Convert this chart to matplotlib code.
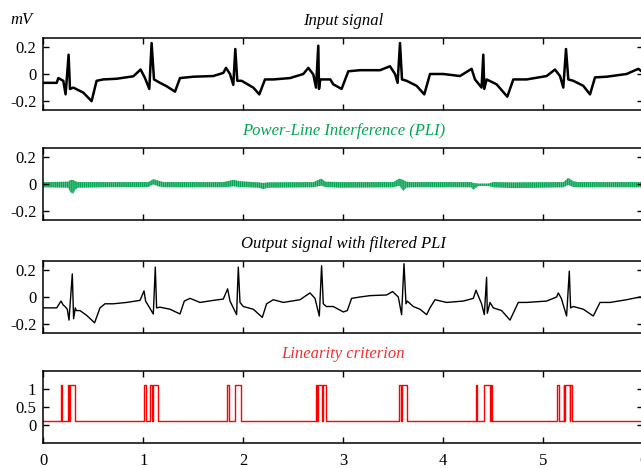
import matplotlib
matplotlib.use('Agg')
import matplotlib.pyplot as plt

plt.rcParams['font.family'] = ['Liberation Serif', 'DejaVu Serif']
plt.rcParams['font.size'] = 12
plt.rcParams['axes.unicode_minus'] = False
plt.rcParams['hatch.linewidth'] = 1.0

# input signal (mV) - breakpoints
inp_t = [0, 0.134, 0.15, 0.2, 0.223, 0.253, 0.267, 0.3, 0.4, 0.483, 0.533, 0.6, 0.733, 0.9,
         0.973, 1.017, 1.06, 1.083, 1.107, 1.167, 1.233, 1.317, 1.367, 1.5, 1.7, 1.8, 1.827,
         1.867, 1.9, 1.92, 1.94, 1.983, 2.1, 2.16, 2.217, 2.3, 2.467, 2.6, 2.65, 2.7, 2.727,
         2.75, 2.757, 2.77, 2.87, 2.9, 2.983, 3.05, 3.167, 3.367, 3.467, 3.517, 3.543, 3.567,
         3.587, 3.633, 3.733, 3.81, 3.867, 4.0, 4.167, 4.283, 4.317, 4.383, 4.4, 4.41, 4.433,
         4.533, 4.64, 4.7, 4.833, 5.033, 5.117, 5.167, 5.2, 5.227, 5.25, 5.3, 5.4, 5.467,
         5.517, 5.633, 5.833, 5.95, 6.0]
inp_v = [-0.065, -0.065, -0.03, -0.05, -0.15, 0.142, -0.11, -0.1, -0.137, -0.2, -0.05, -0.04,
         -0.035, -0.017, 0.033, -0.03, -0.11, 0.228, -0.04, -0.065, -0.09, -0.13, -0.03, -0.02,
         -0.015, 0.008, 0.045, 0.0, -0.08, 0.184, -0.05, -0.05, -0.1, -0.15, -0.04, -0.04,
         -0.03, 0.0, 0.045, -0.003, -0.1, 0.208, -0.11, -0.04, -0.04, -0.076, -0.11, 0.02,
         0.028, 0.028, 0.057, 0.0, -0.065, 0.228, -0.04, -0.05, -0.087, -0.15, 0.0, 0.0,
         -0.015, 0.038, -0.04, -0.1, 0.142, -0.11, -0.04, -0.076, -0.167, -0.04, -0.04,
         -0.015, 0.033, -0.015, -0.1, 0.184, -0.04, -0.05, -0.087, -0.15, -0.025, -0.02,
         0.0, 0.038, 0.01]

# power-line interference, drawn as its envelope (upper / lower edge)
pli_t = [0, 0.25, 0.27, 0.3, 0.32, 0.35, 0.6, 1.05, 1.1, 1.15, 1.2, 1.8, 1.9, 1.97, 2.15,
         2.2, 2.25, 2.7, 2.78, 2.82, 2.97, 3.5, 3.56, 3.6, 3.63, 3.68, 4.28, 4.3, 4.35, 4.45,
         4.5, 4.7, 5.2, 5.25, 5.3, 5.35, 6.0]
pli_hi = [0.014, 0.017, 0.03, 0.03, 0.02, 0.014, 0.014, 0.014, 0.035, 0.025, 0.014, 0.014,
          0.03, 0.02, 0.012, 0.008, 0.012, 0.014, 0.04, 0.017, 0.014, 0.014, 0.04, 0.03, 0.017,
          0.014, 0.014, 0.008, 0.003, 0.003, 0.014, 0.012, 0.014, 0.045, 0.02, 0.014, 0.014]
pli_lo = [-0.024, -0.027, -0.06, -0.07, -0.04, -0.027, -0.024, -0.022, -0.002, -0.017, -0.024,
          -0.024, -0.017, -0.022, -0.027, -0.037, -0.027, -0.024, -0.012, -0.022, -0.027, -0.024,
          -0.012, -0.05, -0.027, -0.024, -0.024, -0.042, -0.014, -0.014, -0.024, -0.03, -0.024,
          -0.007, -0.022, -0.024, -0.024]

# output signal with filtered PLI
out_t = [0, 0.134, 0.16, 0.177, 0.2, 0.217, 0.24, 0.257, 0.29, 0.303, 0.32, 0.33, 0.367,
         0.433, 0.513, 0.567, 0.617, 0.7, 0.833, 0.967, 1.007, 1.023, 1.1, 1.12, 1.133, 1.167,
         1.267, 1.367, 1.41, 1.467, 1.567, 1.7, 1.8, 1.843, 1.867, 1.933, 1.95, 1.967, 2.0,
         2.1, 2.19, 2.233, 2.3, 2.4, 2.567, 2.667, 2.717, 2.76, 2.783, 2.8, 2.83, 2.9, 3.0,
         3.04, 3.083, 3.167, 3.267, 3.433, 3.493, 3.55, 3.583, 3.607, 3.627, 3.64, 3.7, 3.767,
         3.833, 3.867, 3.917, 4.033, 4.2, 4.3, 4.327, 4.36, 4.383, 4.41, 4.433, 4.44, 4.467,
         4.5, 4.583, 4.667, 4.75, 4.833, 5.033, 5.133, 5.15, 5.18, 5.233, 5.26, 5.273, 5.3,
         5.4, 5.5, 5.567, 5.667, 5.833, 5.967, 6.0]
out_v = [-0.08, -0.08, -0.05, -0.03, -0.06, -0.07, -0.09, -0.17, 0.17, -0.16, -0.08, -0.1,
         -0.1, -0.135, -0.19, -0.08, -0.05, -0.05, -0.04, -0.025, 0.045, -0.03, -0.125, 0.22,
         -0.08, -0.075, -0.09, -0.125, -0.03, -0.01, -0.04, -0.025, -0.015, 0.06, -0.03,
         -0.13, 0.22, -0.04, -0.07, -0.09, -0.15, -0.05, -0.02, -0.04, -0.02, 0.03, -0.01,
         -0.14, 0.23, -0.05, -0.07, -0.07, -0.11, -0.1, -0.01, 0.0, 0.01, 0.015, 0.04, 0.0,
         -0.13, 0.245, -0.05, -0.03, -0.07, -0.09, -0.13, -0.08, -0.02, -0.04, -0.03, -0.01,
         0.05, -0.01, -0.05, -0.13, 0.145, -0.12, -0.04, -0.08, -0.1, -0.17, -0.04, -0.04,
         -0.03, 0.0, 0.03, -0.01, -0.14, 0.19, -0.08, -0.07, -0.09, -0.14, -0.04, -0.04,
         -0.02, 0.0, 0.0]

# linearity criterion: switching times and level held after each one
lin_t = [0, 0.174, 0.187, 0.245, 0.255, 0.265, 0.32, 1.01, 1.024, 1.067, 1.084, 1.094, 1.144,
         1.84, 1.854, 1.917, 1.977, 2.725, 2.735, 2.75, 2.784, 2.80, 2.83, 3.557, 3.577, 3.59,
         3.633, 4.324, 4.337, 4.407, 4.47, 4.475, 4.484, 5.14, 5.155, 5.205, 5.21, 5.215,
         5.265, 5.27, 5.29, 6.0]
lin_v = [0.1, 1.1, 0.1, 1.1, 0.1, 1.1, 0.1, 1.1, 0.1, 1.1, 0.1, 1.1, 0.1,
         1.1, 0.1, 1.1, 0.1, 1.1, 0.1, 1.1, 0.1, 1.1, 0.1, 1.1, 0.1, 1.1,
         0.1, 1.1, 0.1, 1.1, 0.1, 1.1, 0.1, 1.1, 0.1, 1.1, 0.1, 1.1,
         0.1, 1.1, 0.1, 0.1]

green = '#00a651'
red = '#ee3030'

fig = plt.figure(figsize=(6.41, 4.68), dpi=100)
left = 43.3 / 641
width = 600 / 641
h = 72 / 468
bottoms = [1 - 110 / 468, 1 - 220 / 468, 1 - 333 / 468, 1 - 443 / 468]


def panel(b, title, tcolor, yt, ylim, last=False):
    ax = fig.add_axes([left, b, width, h])
    ax.set_xlim(0, 6)
    ax.set_ylim(*ylim)
    ax.set_xticks(range(7))
    ax.set_yticks(yt)
    ax.set_yticklabels([('%g' % v) for v in yt])
    ax.tick_params(direction='in', top=True, right=True, length=4, width=1,
                   labelbottom=last, pad=5)
    ax.tick_params(axis='x', pad=7)
    for s in ax.spines.values():
        s.set_linewidth(1.1)
    ax.set_title(title, fontstyle='italic', color=tcolor, fontsize=12, pad=9.5)
    return ax


ax1 = panel(bottoms[0], 'Input signal', 'black', [-0.2, 0, 0.2], (-0.265, 0.265))
ax1.plot(inp_t, inp_v, color='black', lw=1.8)

ax2 = panel(bottoms[1], 'Power-Line Interference (PLI)', green, [-0.2, 0, 0.2], (-0.265, 0.265))
# solid core plus dense vertical hatch to mimic the 50 Hz ripple
ax2.fill_between(pli_t, pli_lo, pli_hi, facecolor=green, alpha=0.55, lw=0)
ax2.fill_between(pli_t, pli_lo, pli_hi, facecolor='none', edgecolor=green,
                 hatch='||||||||', lw=0)

ax3 = panel(bottoms[2], 'Output signal with filtered PLI', 'black', [-0.2, 0, 0.2], (-0.265, 0.265))
ax3.plot(out_t, out_v, color='black', lw=1.0)

ax4 = panel(bottoms[3], 'Linearity criterion', red, [0, 0.5, 1], (-0.5, 1.5), last=True)
ax4.step(lin_t, lin_v, where='post', color='red', lw=1.0)

fig.text(10 / 641, 1 - 24 / 468, 'mV', fontstyle='italic', fontsize=12, va='baseline')

fig.savefig('out.png', dpi=100)
